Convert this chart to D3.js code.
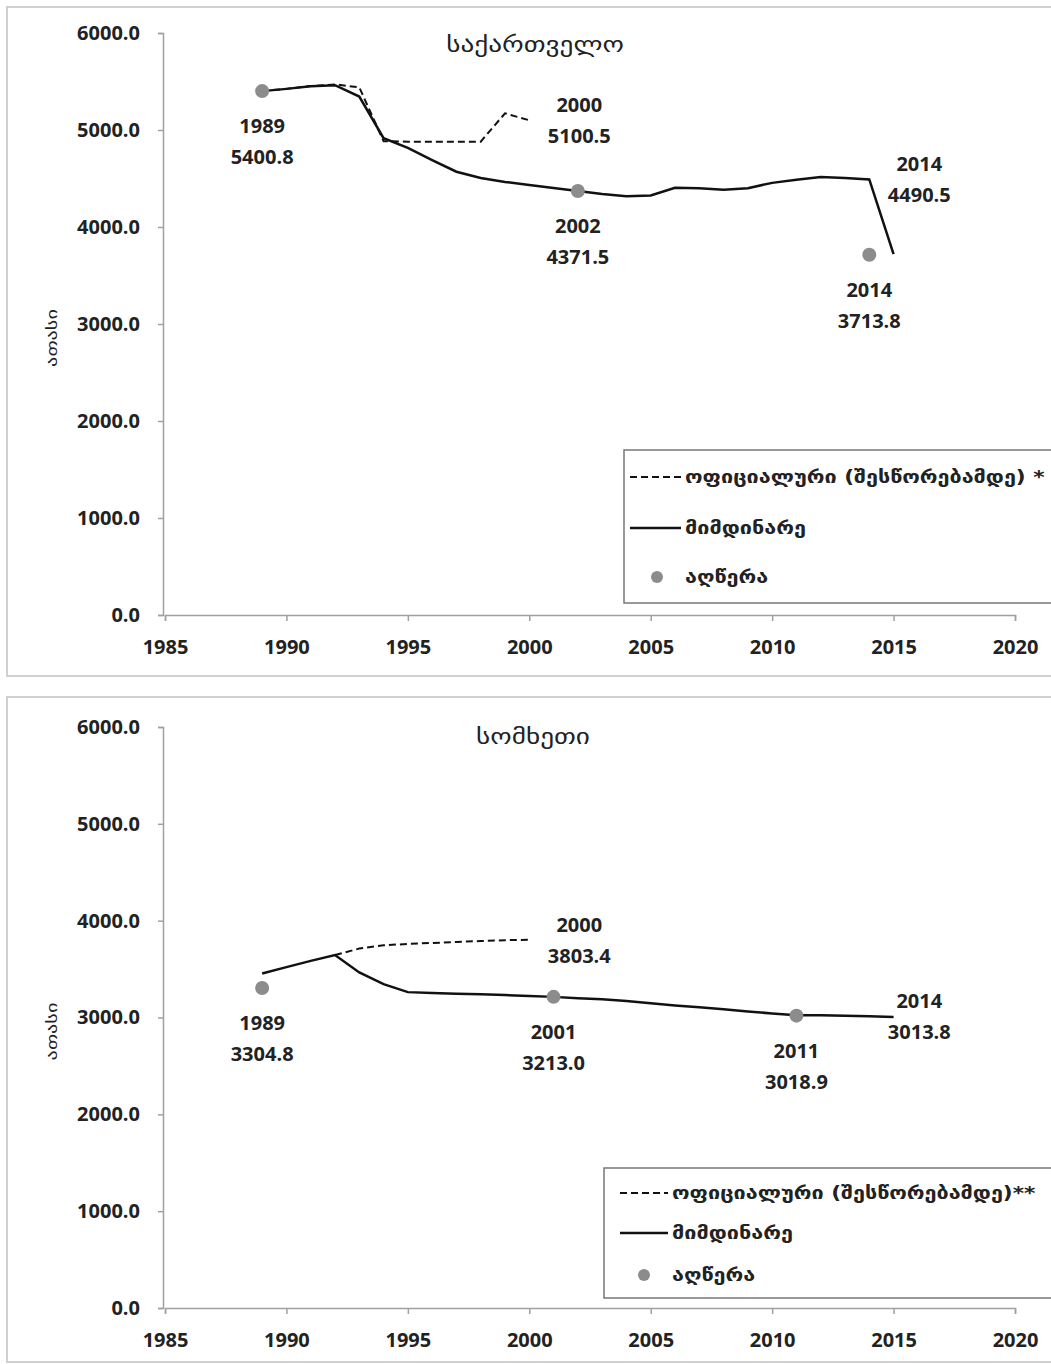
<!DOCTYPE html>
<html><head><meta charset="utf-8">
<script src="https://cdn.jsdelivr.net/npm/d3@7"></script>
<style>body{margin:0;background:#fff}svg{display:block}</style>
</head><body>
<script>
// ---- data ----
const years = d3.range(1989, 2016);
const geoCurrent = [5400.8,5424,5450,5462,5345,4915,4815,4690,4570,4505,4464,4433,4402,4371.5,4340,4318,4325,4405,4400,4385,4400,4455,4488,4515,4505,4490.5,3721];
const geoOfficialYears = [1989,1990,1991,1992,1993,1994,1995,1996,1997,1998,1999,2000];
const geoOfficial = [5400.8,5424,5453,5470,5440,4885,4880,4880,4880,4880,5172,5100.5];
const geoCensusYears = [1989,2002,2014];
const geoCensus = [5400.8,4371.5,3713.8];
const armCurrent = [3455,3520,3585,3645,3465,3345,3262,3252,3245,3240,3232,3222,3213.0,3200,3188,3170,3148,3125,3105,3085,3062,3042,3022,3022,3018,3013.8,3005];
const armOfficialYears = [1992,1993,1994,1995,1996,1997,1998,1999,2000];
const armOfficial = [3645,3712,3745,3760,3770,3780,3790,3798,3803.4];
const armCensusYears = [1989,2001,2011];
const armCensus = [3304.8,3213.0,3018.9];
const yTicks = [0,1000,2000,3000,4000,5000,6000];
const xTicks = [1985,1990,1995,2000,2005,2010,2015,2020];
const titles = ["საქართველო","სომხეთი"];
const legendLabels = [["ოფიციალური (შესწორებამდე) *","მიმდინარე","აღწერა"],["ოფიციალური (შესწორებამდე)**","მიმდინარე","აღწერა"]];
const yLabel = "ათასი";
// annotations: [year, value, label1, label2, side(0 below,1 right-above)]
const geoNotes = [[1989,5400.8,"1989","5400.8",0],[2000,5100.5,"2000","5100.5",1],[2002,4371.5,"2002","4371.5",0],[2014,4490.5,"2014","4490.5",1],[2014,3713.8,"2014","3713.8",0]];
const armNotes = [[1989,3304.8,"1989","3304.8",0],[2000,3803.4,"2000","3803.4",1],[2001,3213.0,"2001","3213.0",0],[2011,3018.9,"2011","3018.9",0],[2014,3013.8,"2014","3013.8",1]];

const W = 1051, H = 1364;
const svg = d3.select("body").append("svg").attr("width", W).attr("height", H);
const numFont = "'Open Sans', 'Liberation Sans', sans-serif";
const geoFont = "'DejaVu Sans', sans-serif";

const x = d3.scaleLinear().domain([1985, 2020]).range([165, 1015]);

function wideText(g, px, py, s, size, sx, weight, anchor, rot) {
  return g.append("text")
    .attr("transform", `translate(${px},${py})${rot ? " rotate(-90)" : ""} scale(${sx},1)`)
    .attr("text-anchor", anchor).attr("font-family", geoFont).attr("font-size", size)
    .attr("font-weight", weight).attr("fill", "#222").text(s);
}

function panel(cfg) {
  const g = svg.append("g");
  g.append("rect").attr("x", cfg.frame[0]).attr("y", cfg.frame[1]).attr("width", cfg.frame[2]).attr("height", cfg.frame[3])
    .attr("fill", "#fff").attr("stroke", "#d0d0d0").attr("stroke-width", 2);
  const y = d3.scaleLinear().domain([0, 6000]).range(cfg.yr);
  const yAxis = d3.axisLeft(y).tickValues(yTicks).tickSize(5).tickPadding(18).tickFormat(d3.format(".1f"));
  const ya = g.append("g").attr("transform", `translate(${x(1985)-2},0)`).call(yAxis);
  const xAxis = d3.axisBottom(x).tickValues(xTicks).tickSize(6).tickPadding(19).tickFormat(d3.format("d"));
  const xa = g.append("g").attr("transform", `translate(0,${cfg.yr[0]})`).call(xAxis);
  [ya, xa].forEach(a => {
    a.selectAll("path,line").attr("stroke", "#a0a0a0").attr("stroke-width", 1.5);
    a.selectAll("text").attr("font-family", numFont).attr("font-size", 20).attr("fill", "#222").attr("font-weight", "bold");
  });
  wideText(g, 57, (cfg.yr[0]+cfg.yr[1])/2 + 14, yLabel, 15, 1.35, "normal", "middle", true);
  wideText(g, cfg.titleX, cfg.titleY, cfg.title, 22, 1.24, "normal", "middle", false);

  const line = d3.line().x(d => x(d[0])).y(d => y(d[1]));
  g.append("path").datum(cfg.offY.map((yr, i) => [yr, cfg.off[i]])).attr("d", line)
    .attr("fill", "none").attr("stroke", "#111").attr("stroke-width", 2).attr("stroke-dasharray", "7,4");
  g.append("path").datum(years.map((yr, i) => [yr, cfg.cur[i]])).attr("d", line)
    .attr("fill", "none").attr("stroke", "#111").attr("stroke-width", 2.5);
  g.selectAll("circle.c").data(cfg.cenY.map((yr, i) => [yr, cfg.cen[i]])).join("circle")
    .attr("cx", d => x(d[0])).attr("cy", d => y(d[1])).attr("r", 7).attr("fill", "#8c8c8c");

  cfg.notes.forEach(n => {
    const cx = x(n[0]) + (n[4] ? 50 : 0);
    const baseY = n[4] === 0 ? y(n[1]) + 42 : y(n[1]) - 8;
    const t = g.append("text").attr("text-anchor", "middle").attr("font-family", numFont)
      .attr("font-size", 20).attr("fill", "#222").attr("font-weight", "bold");
    t.append("tspan").attr("x", cx).attr("y", baseY).text(n[2]);
    t.append("tspan").attr("x", cx).attr("y", baseY + 31).text(n[3]);
  });

  // legend
  const L = cfg.legend;
  g.append("rect").attr("x", L.x).attr("y", L.y).attr("width", 500).attr("height", L.h)
    .attr("fill", "#fff").attr("stroke", "#777").attr("stroke-width", 1.5);
  const lt = (yy, s) => wideText(g, L.tx, yy + 6, s, 18, 1.2, "bold", "start", false);
  g.append("line").attr("x1", L.lx).attr("x2", L.tx - 4).attr("y1", L.rows[0]).attr("y2", L.rows[0])
    .attr("stroke", "#111").attr("stroke-width", 2).attr("stroke-dasharray", "7,4");
  lt(L.rows[0], cfg.leg[0]);
  g.append("line").attr("x1", L.lx).attr("x2", L.tx - 4).attr("y1", L.rows[1]).attr("y2", L.rows[1])
    .attr("stroke", "#111").attr("stroke-width", 2.5);
  lt(L.rows[1], cfg.leg[1]);
  g.append("circle").attr("cx", L.dx).attr("cy", L.rows[2]).attr("r", 6).attr("fill", "#8c8c8c");
  lt(L.rows[2], cfg.leg[2]);
}

panel({frame:[7,7,1060,669], yr:[615,33], title:titles[0], titleX:535, titleY:52,
  cur:geoCurrent, off:geoOfficial, offY:geoOfficialYears, cen:geoCensus, cenY:geoCensusYears,
  notes:geoNotes, leg:legendLabels[0],
  legend:{x:624, y:450, h:153, lx:630, tx:685, dx:657, rows:[477,528,577]}});
panel({frame:[7,697,1060,665], yr:[1308,727], title:titles[1], titleX:533, titleY:744,
  cur:armCurrent, off:armOfficial, offY:armOfficialYears, cen:armCensus, cenY:armCensusYears,
  notes:armNotes, leg:legendLabels[1],
  legend:{x:604, y:1168, h:130, lx:620, tx:672, dx:644, rows:[1193,1233,1275]}});
</script>
</body></html>
